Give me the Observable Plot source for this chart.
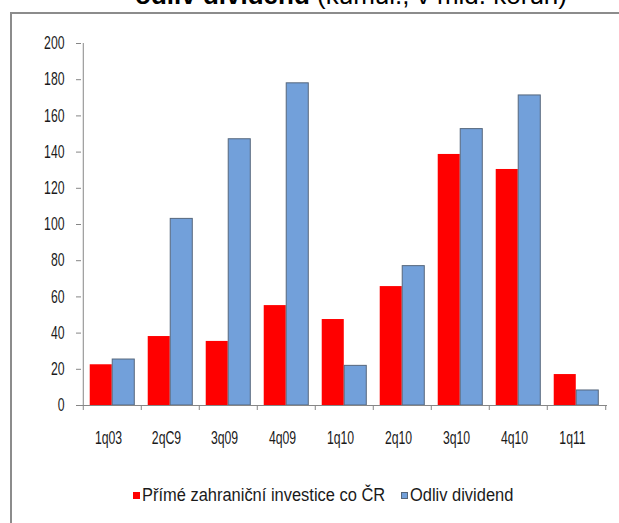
<!DOCTYPE html>
<html>
<head>
<meta charset="utf-8">
<script src="https://cdn.jsdelivr.net/npm/d3@7"></script>
<script src="https://cdn.jsdelivr.net/npm/@observablehq/plot@0.6"></script>
<style>
  html, body { margin: 0; padding: 0; background: #fff; }
  #wrap { position: relative; width: 619px; height: 523px; overflow: hidden; background: #fff; }
  #frame { position: absolute; left: 10px; top: 12px; width: 620px; height: 520px;
           border-top: 2px solid #8c8c8c; border-left: 2px solid #8c8c8c; }
  #title { position: absolute; left: 135px; top: -20px; white-space: nowrap;
           font-family: "Liberation Sans", Arial, sans-serif; font-size: 26px; color: #000; }
  #title b { font-weight: bold; }
  #plot { position: absolute; left: 0; top: 0; }
  .leg { position: absolute; top: 484px; font-family: "Liberation Sans", Arial, sans-serif;
         font-size: 17.5px; color: #1a1a1a; white-space: nowrap; line-height: 22px; }
  .leg .t { display: inline-block; transform: scaleX(0.94); transform-origin: 0 50%; }
  .sw { display: inline-block; width: 7px; height: 7px; margin-right: 2px; vertical-align: 2px; box-sizing: border-box; }
</style>
</head>
<body>
<div id="wrap">
  <div id="frame"></div>
  <div id="title"><b>odliv dividend</b> (kumul., v mld. korun)</div>
  <div id="plot"></div>
  <div class="leg" style="left:133px"><span class="sw" style="background:#ff0000"></span><span class="t" id="leg1"></span></div>
  <div class="leg" style="left:401px"><span class="sw" style="background:#72a0da;border:1px solid #56677c"></span><span class="t" id="leg2"></span></div>
</div>
<script>
const quarters = ["1q03", "2qC9", "3q09", "4q09", "1q10", "2q10", "3q10", "4q10", "1q11"];
const pzi = [22.5, 38.1, 35.4, 55.2, 47.5, 65.7, 138.7, 130.4, 17.1];
const dividends = [25.4, 103.1, 147.1, 178.0, 21.9, 77.0, 152.7, 171.3, 8.3];
const seriesNames = ["Přímé zahraniční investice co ČR", "Odliv dividend"];
const yTicks = [0, 20, 40, 60, 80, 100, 120, 140, 160, 180, 200];

document.getElementById("leg1").textContent = seriesNames[0];
document.getElementById("leg2").textContent = seriesNames[1];

const W = 619, H = 460;
const mL = 81, mR = 12, mT = 43, mB = 55;
const bw = (W - mL - mR) / quarters.length;
const gap = bw * 0.115;
const half = bw / 2;

const redData = quarters.map((q, i) => ({q, v: pzi[i], s: seriesNames[0]}));
const blueData = quarters.map((q, i) => ({q, v: dividends[i], s: seriesNames[1]}));

const font = '"Liberation Sans", Arial, sans-serif';

const chart = Plot.plot({
  width: W, height: H,
  marginLeft: mL, marginRight: mR, marginTop: mT, marginBottom: mB,
  style: {fontFamily: font, background: "transparent", overflow: "visible"},
  x: {domain: quarters, padding: 0, axis: null},
  y: {domain: [0, 200], axis: null},
  marks: [
    Plot.barY(redData, {x: "q", y: "v", fill: "#ff0000", insetLeft: gap, insetRight: half}),
    Plot.barY(blueData, {x: "q", y: "v", fill: "#72a0da", stroke: "#56677c", strokeWidth: 1, insetLeft: half, insetRight: gap}),
    Plot.ruleY([0], {stroke: "#868686", strokeWidth: 1}),
    Plot.ruleX([quarters[0]], {x: d => d, y1: 0, y2: 200, dx: -half, stroke: "#868686", strokeWidth: 1}),
    Plot.axisY({ticks: yTicks, tickSize: 5, tickPadding: 12, label: null, stroke: "#868686", fill: "#1a1a1a", fontSize: 17.5, tickFormat: d => String(d)}),
    Plot.axisX({ticks: quarters, tickSize: 5, tickFormat: () => "", label: null, dx: -half, stroke: "#868686"}),
    Plot.axisX({ticks: [quarters[quarters.length - 1]], tickSize: 5, tickFormat: () => "", label: null, dx: half, stroke: "#868686"}),
    Plot.axisX({ticks: quarters, tickSize: 0, tickPadding: 26, label: null, dx: -4, fill: "#1a1a1a", fontSize: 17.5})
  ]
});
document.getElementById("plot").appendChild(chart);

function condense(sel, k) {
  chart.querySelectorAll(sel).forEach(t => {
    const tr = t.getAttribute("transform");
    if (tr) t.setAttribute("transform", `${tr} scale(${k},1)`);
  });
}
condense('g[aria-label="x-axis tick label"] text', 0.7);
condense('g[aria-label="y-axis tick label"] text', 0.7);
</script>
</body>
</html>
